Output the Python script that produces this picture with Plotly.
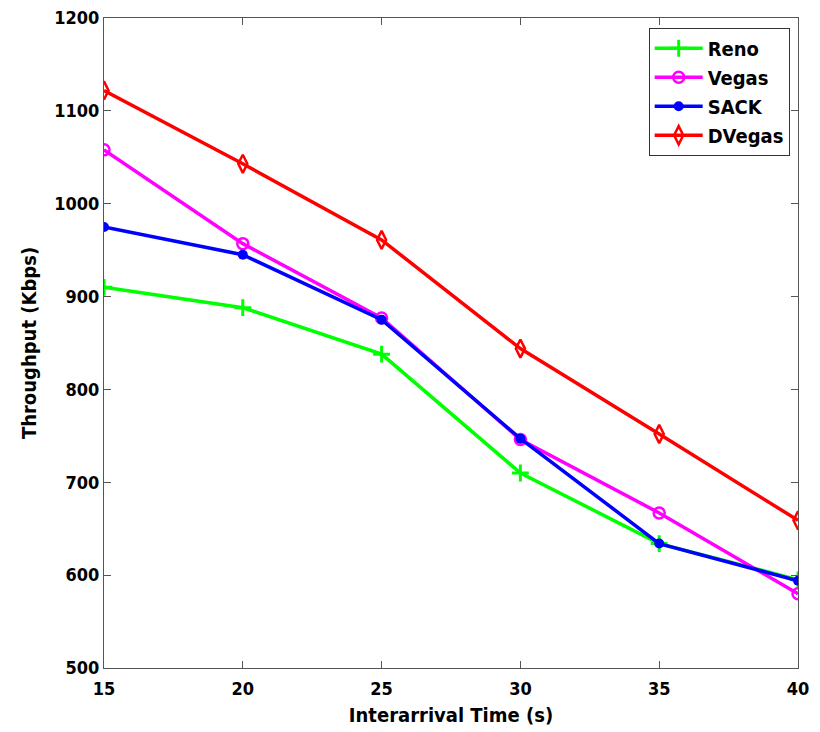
import plotly.graph_objects as go

x_vals = [15, 20, 25, 30, 35, 40]
reno = [910, 888, 838, 710, 634, 595]
vegas = [1058, 957, 877, 746, 667, 580]
sack = [975, 945, 875, 747, 634, 594]
dvegas = [1122, 1043, 961, 844, 752, 659]

x_ticks = [15, 20, 25, 30, 35, 40]
y_ticks = [500, 600, 700, 800, 900, 1000, 1100, 1200]

FONT = "DejaVu Sans Condensed, Liberation Sans Narrow, Liberation Sans, sans-serif"

series = [
    ("Reno", reno, "#00ff00", dict(symbol="cross-thin-open", size=12, line=dict(width=3, color="#00ff00"))),
    ("Vegas", vegas, "#ff00ff", dict(symbol="circle-open", size=11, line=dict(width=2.5, color="#ff00ff"))),
    ("SACK", sack, "#0000ff", dict(symbol="circle", size=10, color="#0000ff", line=dict(width=0))),
    ("DVegas", dvegas, "#ff0000", dict(symbol="diamond-tall-open", size=13, line=dict(width=2.5, color="#ff0000"))),
]

fig = go.Figure()
for name, vals, color, marker in series:
    fig.add_trace(go.Scatter(
        x=x_vals, y=vals, name=f"<b>{name}</b>", mode="lines+markers",
        line=dict(color=color, width=3.5),
        marker=marker,
    ))

axis_common = dict(
    showgrid=False, zeroline=False, showline=True, linecolor="#555555", linewidth=1,
    mirror="ticks", ticks="inside", ticklen=7, tickcolor="#555555",
    tickfont=dict(family=FONT, size=18, color="black"),
    automargin=False, ticklabeloverflow="allow",
)

fig.update_xaxes(range=[15, 40], tickvals=x_ticks, ticklabelstandoff=4,
                 title=dict(text="<b>Interarrival Time (s)</b>", font=dict(family=FONT, size=20, color="black"), standoff=10),
                 ticktext=[f"<b>{t}</b>" for t in x_ticks], **axis_common)
fig.update_yaxes(range=[500, 1200], tickvals=y_ticks,
                 title=dict(text="<b>Throughput (Kbps)</b>", font=dict(family=FONT, size=20, color="black"), standoff=12),
                 ticktext=[f"<b>{t}</b>" for t in y_ticks], **axis_common)

fig.update_layout(
    width=812, height=724,
    margin=dict(l=96, r=22, t=10, b=64),
    paper_bgcolor="white", plot_bgcolor="white",
    showlegend=True,
    legend=dict(x=0.988, y=0.985, xanchor="right", yanchor="top",
                bordercolor="#333333", borderwidth=1, bgcolor="white",
                font=dict(family=FONT, size=20, color="black"),
                itemwidth=48, tracegroupgap=0),
)

fig.write_html("out.html")
